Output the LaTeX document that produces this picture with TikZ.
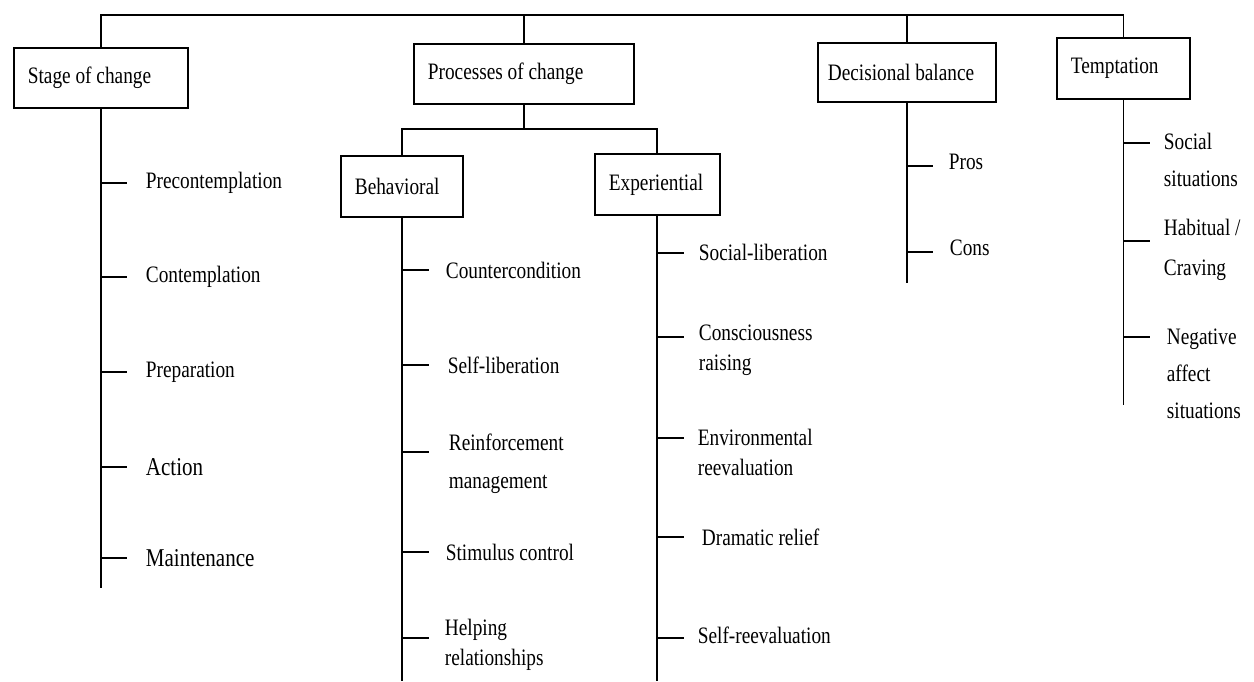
\documentclass[tikz,border=0pt]{standalone}
\usepackage{fontspec}
\setmainfont[FakeStretch=0.82]{Liberation Serif}
\usepackage{tikz}

\begin{document}
\begin{tikzpicture}[x=0.02cm, y=-0.02cm, line width=1pt,
    every node/.style={font=\fontsize{13.4}{17}\selectfont},
    catbox/.style={draw, line width=1pt, anchor=north west, minimum height=1.2cm, inner xsep=0.28cm, align=flush left},
    leaf/.style={anchor=west, inner sep=0pt, align=left},
    bigleaf/.style={leaf, font=\fontsize{14.6}{18}\selectfont}]
      \useasboundingbox (0,0) rectangle (1254,681);

      \node[catbox, text width=2.92cm] (stage) at (13,47) {Stage of change};
      \node[catbox, text width=3.84cm] (proc) at (413,43) {Processes of change};
      \node[catbox, inner xsep=0.2cm, text width=3.16cm, minimum height=1.18cm] (decis) at (817,42) {Decisional balance};
      \node[catbox, text width=2.1cm, minimum height=1.22cm] (tempt) at (1056,37) {Temptation};
      \node[catbox, text width=1.88cm, minimum height=1.22cm] (behav) at (340,155) {Behavioral};
      \node[catbox, text width=1.94cm, minimum height=1.22cm] (exper) at (594,153) {Experiential};

      \coordinate (bus) at (0,15);
      \draw (stage.north) |- (tempt.north |- bus) -- (tempt.north);
      \draw (proc.north) -- (proc.north |- bus);
      \draw (decis.north) -- (decis.north |- bus);

      \coordinate (sub) at (0,129);
      \draw (proc.south) -- (proc.south |- sub);
      \draw (behav.north) |- (exper.north |- sub) -- (exper.north);

      \draw (stage.south) -- (stage.south |- 0,588);
      \draw (behav.south) -- (behav.south |- 0,681);
      \draw (exper.south) -- (exper.south |- 0,681);
      \draw (decis.south) -- (decis.south |- 0,283);
      \draw (tempt.south) -- (tempt.south |- 0,405);

      \node[leaf] (precon) at (145,183) {Precontemplation};
      \node[leaf] (contem) at (145,277) {Contemplation};
      \node[leaf] (prepar) at (145,372) {Preparation};
      \node[bigleaf] (action) at (145,467) {Action};
      \node[bigleaf] (mainte) at (145,558) {Maintenance};
      \draw (stage.south |- precon.west) -- ++(26,0);
      \draw (stage.south |- contem.west) -- ++(26,0);
      \draw (stage.south |- prepar.west) -- ++(26,0);
      \draw (stage.south |- action.west) -- ++(26,0);
      \draw (stage.south |- mainte.west) -- ++(26,0);

      \node[leaf] (counter) at (445,270) {Countercondition};
      \node[leaf] (selflib) at (447,365) {Self-liberation};
      \node[leaf] (reinf) at (448,464) {Reinforcement\\[4.5pt]management};
      \node[leaf] (stimul) at (445,552) {Stimulus control};
      \node[leaf] (helpin) at (444,645) {Helping\\relationships};
      \draw (behav.south |- counter.west) -- ++(27,0);
      \draw (behav.south |- selflib.west) -- ++(27,0);
      \draw (behav.south |- 0,452) -- ++(27,0);
      \draw (behav.south |- stimul.west) -- ++(27,0);
      \draw (behav.south |- 0,638) -- ++(27,0);

      \node[leaf] (soclib) at (698,252) {Social-liberation};
      \node[leaf] (consci) at (698,350) {Consciousness\\raising};
      \node[leaf] (enviro) at (697,452) {Environmental\\reevaluation};
      \node[leaf] (dramat) at (701,537) {Dramatic relief};
      \node[leaf] (selfre) at (697,635) {Self-reevaluation};
      \draw (exper.south |- 0,253) -- ++(27,0);
      \draw (exper.south |- 0,337) -- ++(27,0);
      \draw (exper.south |- 0,438) -- ++(27,0);
      \draw (exper.south |- dramat.west) -- ++(27,0);
      \draw (exper.south |- 0,638) -- ++(27,0);

      \node[leaf] (pros) at (948,162) {Pros};
      \node[leaf] (cons) at (949,248) {Cons};
      \draw (decis.south |- 0,166) -- ++(26,0);
      \draw (decis.south |- 0,252) -- ++(26,0);

      \node[leaf] (social) at (1163,160) {Social\\[4.5pt]situations};
      \node[leaf] (habit) at (1163,250) {Habitual /\\[5.5pt]Craving};
      \node[leaf] (negat) at (1166,374) {Negative\\[4pt]affect\\[4pt]situations};
      \draw (tempt.south |- 0,143) -- ++(27,0);
      \draw (tempt.south |- 0,241) -- ++(27,0);
      \draw (tempt.south |- 0,337) -- ++(27,0);
    \end{tikzpicture}
\end{document}
